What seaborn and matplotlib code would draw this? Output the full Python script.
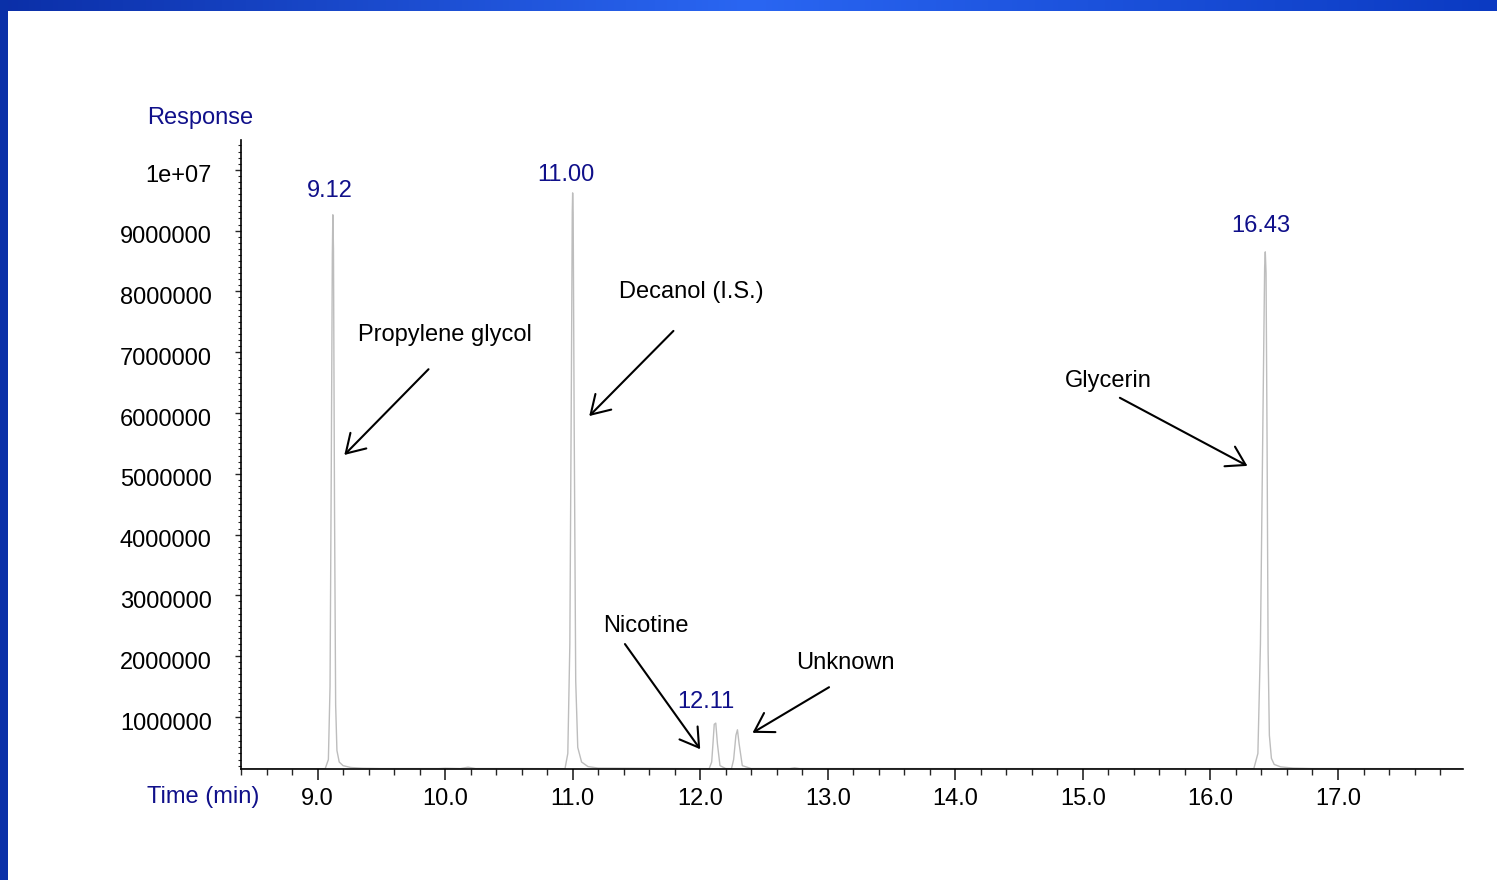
import matplotlib
matplotlib.use("Agg")
import matplotlib.pyplot as plt
import matplotlib.transforms as mtransforms
import numpy as np
import pandas as pd
import seaborn as sns
from matplotlib.colors import LinearSegmentedColormap
from matplotlib.ticker import FuncFormatter, MultipleLocator

# chromatogram trace (time in min, detector response)
times = [
    8.40, 9.06, 9.085, 9.098, 9.108, 9.116, 9.120, 9.125, 9.133, 9.142, 9.152, 9.17, 9.20, 9.26, 9.35, 9.50,
    9.95, 10.00, 10.12, 10.18, 10.24, 10.60,
    10.94, 10.962, 10.978, 10.990, 10.997, 11.000, 11.004, 11.012, 11.024, 11.040, 11.07, 11.12, 11.20,
    12.07, 12.090, 12.100, 12.110, 12.122, 12.135, 12.155, 12.20,
    12.245, 12.262, 12.280, 12.292, 12.305, 12.33, 12.40, 12.70, 12.74, 12.78,
    16.34, 16.372, 16.392, 16.412, 16.425, 16.430, 16.436, 16.444, 16.452, 16.462, 16.478, 16.50, 16.55, 16.65, 16.80,
    17.98,
]
response = [
    150000, 150000, 300000, 1500000, 5200000, 8600000, 9260000, 8700000, 4500000, 1200000, 450000, 260000, 200000, 170000, 158000, 152000,
    152000, 158000, 152000, 175000, 152000, 152000,
    150000, 400000, 2200000, 6500000, 9300000, 9620000, 9300000, 5800000, 1600000, 500000, 260000, 185000, 160000,
    150000, 260000, 560000, 880000, 900000, 560000, 200000, 152000,
    150000, 300000, 700000, 790000, 560000, 200000, 152000, 152000, 165000, 152000,
    150000, 400000, 2200000, 6000000, 8400000, 8650000, 8300000, 5500000, 2100000, 700000, 320000, 220000, 180000, 160000, 152000,
    150000,
]

# retention-time labels drawn over the apexes
peak_times = [9.12, 11.00, 12.11, 16.43]
peak_heights = [9260000, 9620000, 900000, 8650000]
peak_labels = ["9.12", "11.00", "12.11", "16.43"]
label_offsets = [(-3, 24), (-7, 18), (-8, 21), (-4, 26)]  # pixels above the apex

# compound names: (text, text anchor, arrow tail, arrow tip)
compounds = [
    ("Propylene glycol", (9.32, 7.28e6), (9.87, 6.72e6), (9.21, 5.31e6)),
    ("Decanol (I.S.)", (11.36, 7.99e6), (11.79, 7.35e6), (11.13, 5.95e6)),
    ("Glycerin", (14.86, 6.53e6), (15.29, 6.25e6), (16.29, 5.13e6)),
    ("Nicotine", (11.235, 2.50e6), (11.41, 2.20e6), (12.00, 0.47e6)),
    ("Unknown", (12.75, 1.89e6), (13.01, 1.49e6), (12.41, 0.74e6)),
]

NAVY = "#10108a"
FONT = ["Liberation Sans", "DejaVu Sans"]

sns.set_style("ticks")
plt.rcParams["font.family"] = FONT
plt.rcParams["font.size"] = 17

fig = plt.figure(figsize=(14.97, 8.80), dpi=100)
fig.patch.set_facecolor("white")

# blue slide frame: gradient band on top, solid band on the left
band = LinearSegmentedColormap.from_list("band", ["#0b2fa8", "#2a66f2", "#0b3ac2"])
top = fig.add_axes([0, 1 - 11 / 880, 1, 11 / 880])
top.imshow(np.linspace(0, 1, 256)[None, :], aspect="auto", cmap=band)
top.set_axis_off()
left = fig.add_axes([0, 0, 8 / 1497, 1])
left.set_facecolor("#0a30a8")
left.set_xticks([]); left.set_yticks([])
for s in left.spines.values():
    s.set_visible(False)

ax = fig.add_axes([241 / 1497, (880 - 769) / 880, (1463 - 241) / 1497, (769 - 140) / 880])
df = pd.DataFrame({"time": times, "response": response})
sns.lineplot(data=df, x="time", y="response", ax=ax, color="#bdbdbd", lw=1.0, estimator=None, sort=False)

ax.set_xlim(8.40, 17.98)
ax.set_ylim(145000, 10490000)
ax.set_xlabel(""); ax.set_ylabel("")
sns.despine(ax=ax)
for s in ("left", "bottom"):
    ax.spines[s].set_linewidth(1.2)
    ax.spines[s].set_color("black")

ax.xaxis.set_major_locator(MultipleLocator(1.0))
ax.xaxis.set_minor_locator(MultipleLocator(0.2))
ax.xaxis.set_major_formatter(FuncFormatter(lambda v, p: f"{v:.1f}"))
ax.yaxis.set_major_locator(MultipleLocator(1000000))
ax.yaxis.set_minor_locator(MultipleLocator(100000))
ax.yaxis.set_major_formatter(FuncFormatter(lambda v, p: "1e+07" if v >= 1e7 else f"{int(round(v))}"))
ax.tick_params(axis="x", which="major", direction="out", length=8, width=1.2, pad=5.5, labelsize=17, labelcolor="black")
ax.tick_params(axis="x", which="minor", direction="out", length=4, width=1.0)
ax.tick_params(axis="y", which="major", direction="out", length=4, width=1.0, pad=17, labelsize=17, labelcolor="black")
ax.tick_params(axis="y", which="minor", direction="out", length=2, width=0.8)

# y labels sit a few pixels below their ticks in the original
shift = mtransforms.ScaledTranslation(0, -4 / 100, fig.dpi_scale_trans)
for lab in ax.get_yticklabels():
    lab.set_transform(lab.get_transform() + shift)

for t, h, lab, off in zip(peak_times, peak_heights, peak_labels, label_offsets):
    ax.annotate(lab, xy=(t, h), xytext=off, textcoords="offset pixels",
                ha="center", va="center", color=NAVY, fontsize=17)

for name, txt, tail, tip in compounds:
    ax.text(txt[0], txt[1], name, ha="left", va="center", color="black", fontsize=17)
    ax.annotate("", xy=tip, xytext=tail,
                arrowprops=dict(arrowstyle="->,head_length=0.65,head_width=0.4", lw=1.5,
                                color="black", mutation_scale=20, shrinkA=0, shrinkB=0))

fig.text(147 / 1497, 1 - 118 / 880, "Response", color=NAVY, fontsize=17, ha="left", va="center")
fig.text(147 / 1497, 1 - 797 / 880, "Time (min)", color=NAVY, fontsize=17, ha="left", va="center")

fig.savefig("out.png", dpi=100, facecolor="white")
